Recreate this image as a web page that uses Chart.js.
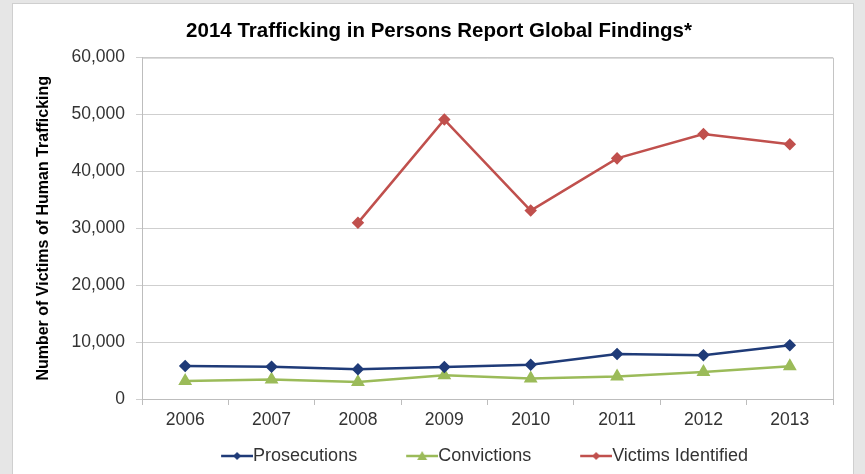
<!DOCTYPE html>
<html>
<head>
<meta charset="utf-8">
<script src="https://cdn.jsdelivr.net/npm/chart.js@4.4.1/dist/chart.umd.min.js"></script>
<style>
  html, body { margin: 0; padding: 0; background: #e6e6e6; overflow: hidden; }
  #panel {
    position: absolute; left: 12px; top: 3px; width: 840px; height: 490px;
    background: #fff; border: 1px solid #cfcfcf;
  }
  #wrap { position: absolute; left: 0; top: 0; width: 840px; height: 478px; }
</style>
</head>
<body>
<div id="panel"><div id="wrap"><canvas id="chart"></canvas></div></div>
<script>
const years = ["2006", "2007", "2008", "2009", "2010", "2011", "2012", "2013"];
const prosecutions = [5808, 5682, 5212, 5606, 6017, 7909, 7705, 9460];
const convictions = [3160, 3427, 2983, 4166, 3619, 3969, 4746, 5776];
const victimsIdentified = [null, null, 30961, 49105, 33113, 42291, 46570, 44758];
const yTicks = [0, 10000, 20000, 30000, 40000, 50000, 60000];

const BLUE = "#1f3b78";
const GREEN = "#9bbb59";
const RED = "#c0504d";
const FONT = "Arial, 'Liberation Sans', sans-serif";

// "line with marker" legend icon like Excel; blank on the left gives the wide gap between items
function legendIcon(color, style) {
  const c = document.createElement("canvas");
  c.width = 74; c.height = 12;
  const g = c.getContext("2d");
  g.strokeStyle = color; g.lineWidth = 2.5;
  g.beginPath(); g.moveTo(42, 6); g.lineTo(74, 6); g.stroke();
  g.fillStyle = color;
  g.beginPath();
  if (style === "triangle") {
    g.moveTo(58, 1); g.lineTo(63, 10); g.lineTo(53, 10);
  } else {
    g.moveTo(58, 2); g.lineTo(62, 6); g.lineTo(58, 10); g.lineTo(54, 6);
  }
  g.closePath(); g.fill();
  return c;
}

const plotBox = {
  id: "plotBox",
  afterLayout(chart) {
    // legend row and title sit a bit right of centre in the original
    chart.legend.left += 45;
    chart.legend.right += 45;
    if (chart.titleBlock) {
      chart.titleBlock.left += 16;
      chart.titleBlock.right += 16;
    }
  },
  afterDatasetsDraw(chart) {
    const { ctx, chartArea: a } = chart;
    ctx.save();
    ctx.strokeStyle = "#c4c4c4";
    ctx.lineWidth = 1;
    ctx.beginPath();
    ctx.moveTo(a.left, a.top + 0.5);
    ctx.lineTo(a.right + 0.5, a.top + 0.5);
    ctx.lineTo(a.right + 0.5, a.bottom);
    ctx.stroke();
    ctx.restore();
  }
};

new Chart(document.getElementById("chart"), {
  type: "line",
  plugins: [plotBox],
  data: {
    labels: years,
    datasets: [
      {
        label: "Prosecutions",
        data: prosecutions,
        borderColor: BLUE,
        backgroundColor: BLUE,
        borderWidth: 2.5,
        pointStyle: "rectRot",
        pointRadius: 4.5,
        icon: legendIcon(BLUE, "diamond")
      },
      {
        label: "Convictions",
        data: convictions,
        borderColor: GREEN,
        backgroundColor: GREEN,
        borderWidth: 2.5,
        pointStyle: "triangle",
        pointRadius: 5.5,
        icon: legendIcon(GREEN, "triangle")
      },
      {
        label: "Victims Identified",
        data: victimsIdentified,
        borderColor: RED,
        backgroundColor: RED,
        borderWidth: 2.5,
        pointStyle: "rectRot",
        pointRadius: 4.5,
        icon: legendIcon(RED, "diamond")
      }
    ]
  },
  options: {
    responsive: true,
    maintainAspectRatio: false,
    animation: false,
    layout: { padding: { left: 0, right: 20, top: 0, bottom: 7 } },
    scales: {
      x: {
        offset: true,
        afterFit(axis) { axis.height = 32; },
        grid: { offset: true, drawOnChartArea: false, color: "#bdbdbd", tickLength: 6 },
        border: { color: "#bdbdbd" },
        ticks: { color: "#333", font: { family: FONT, size: 17.5 }, padding: 5 }
      },
      y: {
        min: 0,
        max: 60000,
        afterBuildTicks(axis) { axis.ticks = yTicks.map(v => ({ value: v })); },
        afterFit(axis) { axis.width = 129; },
        grid: { color: "#cfcfcf", tickLength: 6 },
        border: { color: "#bdbdbd" },
        ticks: {
          color: "#333",
          font: { family: FONT, size: 17.5 },
          padding: 11,
          callback: v => v.toLocaleString("en-US")
        },
        title: {
          display: true,
          text: "Number of Victims of Human Trafficking",
          color: "#000",
          font: { family: FONT, size: 16, weight: "bold" },
          padding: { top: 21, bottom: 0 }
        }
      }
    },
    plugins: {
      title: {
        display: true,
        text: "2014 Trafficking in Persons Report Global Findings*",
        color: "#000",
        font: { family: FONT, size: 20.5, weight: "bold" },
        padding: { top: 15, bottom: 14 }
      },
      legend: {
        position: "bottom",
        labels: {
          usePointStyle: true,
          pointStyleWidth: 56,
          color: "#333",
          font: { family: FONT, size: 18 },
          padding: 16,
          generateLabels(chart) {
            return chart.data.datasets.map((ds, i) => ({
              text: ds.label,
              pointStyle: ds.icon,
              fillStyle: ds.borderColor,
              strokeStyle: ds.borderColor,
              fontColor: "#333",
              lineWidth: 0,
              hidden: false,
              datasetIndex: i
            }));
          }
        }
      },
      tooltip: { enabled: false }
    }
  }
});
</script>
</body>
</html>
